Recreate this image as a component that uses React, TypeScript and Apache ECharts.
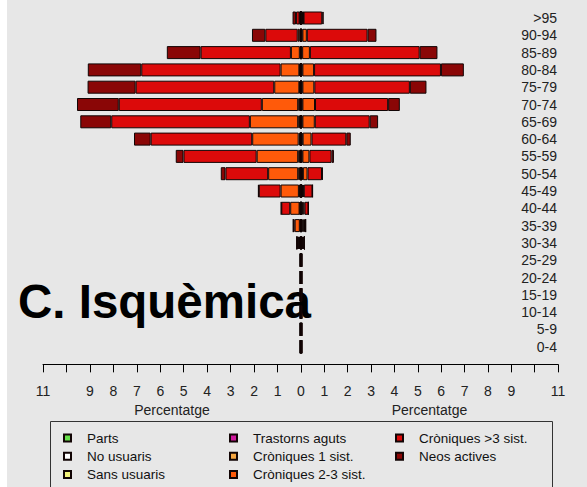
import React, { useEffect, useRef } from 'react';
import * as echarts from 'echarts';

const ageGroups = ['>95', '90-94', '85-89', '80-84', '75-79', '70-74', '65-69', '60-64', '55-59', '50-54', '45-49', '40-44', '35-39', '30-34', '25-29', '20-24', '15-19', '10-14', '5-9', '0-4'];

const seriesNames = ['Parts', 'No usuaris', 'Sans usuaris', 'Trastorns aguts', 'Cròniques 1 sist.', 'Cròniques 2-3 sist.', 'Cròniques >3 sist.', 'Neos actives'];
const seriesColors = ['#66e04a', '#ffffff', '#f2f27a', '#d0189e', '#f5a742', '#ff5a0a', '#dc0a0a', '#8a0606'];

const xTicks = [0, 1, 2, 3, 4, 5, 6, 7, 8, 9, 10, 11];
const hiddenTickLabels = [10];

// Left side (percent), rows from >95 down to 0-4
const leftParts = [0, 0, 0, 0, 0, 0, 0, 0, 0, 0, 0, 0, 0, 0, 0, 0, 0, 0, 0, 0];
const leftNoUsuaris = [0, 0, 0, 0, 0, 0, 0, 0, 0, 0, 0, 0, 0, 0, 0, 0, 0, 0, 0, 0];
const leftSansUsuaris = [0.01, 0.01, 0.01, 0.02, 0.02, 0.02, 0.02, 0.02, 0.02, 0.02, 0.03, 0.02, 0.01, 0.04, 0.01, 0.01, 0.01, 0.01, 0.01, 0.01];
const leftTrastorns = [0.01, 0.01, 0.01, 0.02, 0.02, 0.02, 0.02, 0.02, 0.02, 0.02, 0.03, 0.02, 0.02, 0.04, 0.02, 0.02, 0.02, 0.02, 0.02, 0.02];
const leftCron1 = [0.02, 0.04, 0.03, 0.03, 0.03, 0.08, 0.08, 0.06, 0.08, 0.08, 0.03, 0.02, 0.02, 0.04, 0, 0, 0, 0, 0, 0];
const leftCron23 = [0.02, 0.08, 0.38, 0.8, 1.07, 1.55, 2.06, 1.98, 1.77, 1.28, 0.78, 0.4, 0.22, 0.04, 0, 0, 0, 0, 0, 0];
const leftCron3 = [0.15, 1.38, 3.85, 5.94, 5.91, 6.1, 5.91, 4.33, 3.12, 1.82, 0.93, 0.38, 0.06, 0.02, 0, 0, 0, 0, 0, 0];
const leftNeos = [0.15, 0.57, 1.44, 2.28, 2.05, 1.78, 1.32, 0.71, 0.33, 0.2, 0.03, 0.01, 0, 0, 0, 0, 0, 0, 0, 0];

// Right side (percent)
const rightParts = [0, 0, 0, 0, 0, 0, 0, 0, 0, 0, 0, 0, 0, 0, 0, 0, 0, 0, 0, 0];
const rightNoUsuaris = [0, 0, 0, 0, 0, 0, 0, 0, 0, 0, 0, 0, 0, 0, 0, 0, 0, 0, 0, 0];
const rightSansUsuaris = [0.03, 0.01, 0.01, 0.01, 0.01, 0.01, 0.01, 0.01, 0.01, 0.02, 0.02, 0.02, 0.03, 0.04, 0.01, 0.01, 0.01, 0.01, 0.01, 0.01];
const rightTrastorns = [0.03, 0.02, 0.01, 0.02, 0.02, 0.02, 0.02, 0.02, 0.02, 0.02, 0.02, 0.03, 0.04, 0.04, 0.02, 0.02, 0.02, 0.02, 0.02, 0.02];
const rightCron1 = [0.03, 0.03, 0.03, 0.03, 0.03, 0.03, 0.03, 0.04, 0.03, 0.04, 0.04, 0.05, 0.05, 0.04, 0, 0, 0, 0, 0, 0];
const rightCron23 = [0.02, 0.19, 0.33, 0.5, 0.51, 0.54, 0.53, 0.38, 0.3, 0.2, 0.04, 0.05, 0.05, 0.03, 0, 0, 0, 0, 0, 0];
const rightCron3 = [0.8, 2.6, 4.7, 5.43, 4.09, 3.13, 2.35, 1.49, 0.95, 0.62, 0.37, 0.17, 0.03, 0, 0, 0, 0, 0, 0, 0];
const rightNeos = [0.06, 0.38, 0.76, 0.98, 0.71, 0.5, 0.36, 0.19, 0.1, 0.03, 0.01, 0, 0, 0, 0, 0, 0, 0, 0, 0];

const leftData = [leftParts, leftNoUsuaris, leftSansUsuaris, leftTrastorns, leftCron1, leftCron23, leftCron3, leftNeos];
const rightData = [rightParts, rightNoUsuaris, rightSansUsuaris, rightTrastorns, rightCron1, rightCron23, rightCron3, rightNeos];

const FONT = '"Liberation Sans", Arial, Helvetica, sans-serif';

export default function App() {
  const ref = useRef<HTMLDivElement>(null);

  useEffect(() => {
    if (!ref.current) return;
    const chart = echarts.init(ref.current, undefined, { renderer: 'svg' });

    const gridTop = 9.35;
    const gridHeight = 346;

    const makeXAxis = (gridIndex: number, inverse: boolean) => ({
      gridIndex,
      type: 'value',
      inverse,
      min: xTicks[0],
      max: xTicks[xTicks.length - 1],
      interval: 1,
      offset: 9,
      axisLine: { show: true, lineStyle: { color: '#000', width: 1 } },
      axisTick: { show: true, length: 8, lineStyle: { color: '#000', width: 1 } },
      axisLabel: {
        margin: 19.5,
        fontSize: 14,
        color: '#222',
        fontFamily: FONT,
        formatter: (v: number) => {
          if (hiddenTickLabels.includes(v)) return '';
          if (gridIndex === 1 && v === 0) return '';
          return String(v);
        },
      },
      splitLine: { show: false },
      name: 'Percentatge',
      nameLocation: 'middle',
      nameGap: 31.5,
      nameTextStyle: { fontSize: 14, color: '#222', fontFamily: FONT },
    });

    const makeSeries = (side: 'L' | 'R') =>
      seriesNames.map((name, i) => ({
        name,
        type: 'bar',
        stack: side,
        xAxisIndex: side === 'L' ? 0 : 1,
        yAxisIndex: side === 'L' ? 0 : 1,
        data: side === 'L' ? leftData[i] : rightData[i],
        barWidth: 13,
        z: 2,
        silent: true,
        itemStyle: { color: seriesColors[i], borderColor: '#120505', borderWidth: 1 },
        emphasis: { disabled: true },
      }));

    const legendCommon = {
      orient: 'vertical',
      icon: 'rect',
      itemWidth: 7,
      itemHeight: 7,
      itemGap: 4.3,
      top: 431,
      height: 56,
      padding: 0,
      selectedMode: false,
      textStyle: { fontSize: 13.5, lineHeight: 14, color: '#111', fontFamily: FONT, padding: [0, 0, 0, 11] },
    };

    chart.setOption({
      animation: false,
      backgroundColor: '#e7e7e7',
      grid: [
        { left: 43, width: 258, top: gridTop, height: gridHeight },
        { left: 301, width: 257, top: gridTop, height: gridHeight },
      ],
      xAxis: [makeXAxis(0, true), makeXAxis(1, false)],
      yAxis: [
        { gridIndex: 0, type: 'category', data: ageGroups, inverse: true, show: false },
        {
          gridIndex: 1,
          type: 'category',
          data: ageGroups,
          inverse: true,
          position: 'right',
          axisLine: { show: false },
          axisTick: { show: false },
          splitLine: { show: false },
          axisLabel: { inside: true, interval: 0, margin: 1, fontSize: 14, color: '#222', fontFamily: FONT },
        },
      ],
      legend: [
        { ...legendCommon, left: 63, data: seriesNames.slice(0, 3) },
        { ...legendCommon, left: 229, data: seriesNames.slice(3, 6) },
        { ...legendCommon, left: 395, data: seriesNames.slice(6) },
      ],
      graphic: [
        { type: 'rect', shape: { x: 0, y: 0, width: 7, height: 487 }, style: { fill: '#ffffff' }, z: 0, silent: true },
        {
          type: 'text',
          x: 18,
          y: 301,
          z: 0,
          silent: true,
          style: { text: 'C. Isquèmica', font: 'bold 47.5px ' + FONT, fill: '#000', verticalAlign: 'middle' },
        },
        {
          type: 'rect',
          shape: { x: 50.5, y: 421.5, width: 502, height: 90 },
          style: { fill: 'none', stroke: '#333', lineWidth: 1 },
          z: 0,
          silent: true,
        },
      ],
      series: [...makeSeries('L'), ...makeSeries('R')],
    });

    return () => chart.dispose();
  }, []);

  return <div ref={ref} style={{ position: 'fixed', left: 0, top: 0, width: 587, height: 487 }} />;
}
